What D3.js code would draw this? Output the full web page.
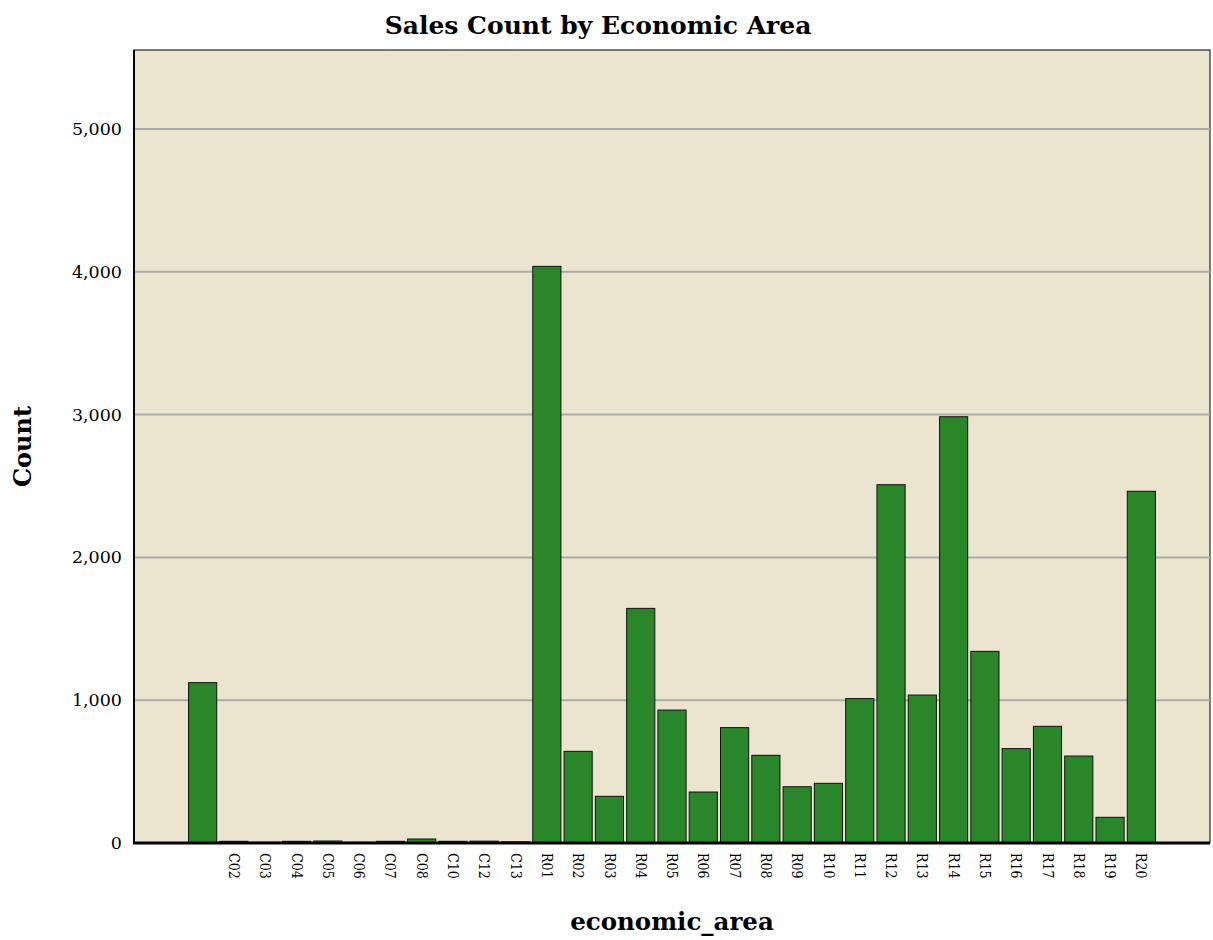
<!DOCTYPE html>
<meta charset="utf-8">
<style>
body { margin: 0; background: #fff; }
text { font-family: "DejaVu Serif", serif; }
</style>
<body>
<svg width="1213" height="940"></svg>
<script src="https://cdn.jsdelivr.net/npm/d3@7"></script>
<script>

var areas = ["", "C02", "C03", "C04", "C05", "C06", "C07", "C08", "C10", "C12", "C13",
  "R01", "R02", "R03", "R04", "R05", "R06", "R07", "R08", "R09", "R10",
  "R11", "R12", "R13", "R14", "R15", "R16", "R17", "R18", "R19", "R20"];

var counts = [1123, 12, 5, 12, 14, 5, 12, 28, 12, 13, 8,
  4038, 642, 327, 1643, 931, 357, 808, 614, 394, 418,
  1011, 2509, 1036, 2985, 1342, 661, 817, 609, 180, 2463];

var yTicks = [0, 1000, 2000, 3000, 4000, 5000];

var data = areas.map(function(a, i) { return {area: a, count: counts[i]}; });

var svg = d3.select("svg"),
    margin = {top: 50, right: 3, bottom: 97, left: 134},
    width = +svg.attr("width") - margin.left - margin.right,
    height = +svg.attr("height") - margin.top - margin.bottom,
    g = svg.append("g").attr("transform", "translate(" + margin.left + "," + margin.top + ")");

var x = d3.scaleBand()
    .domain(areas)
    .range([53, width - 53])
    .paddingInner(0.1)
    .paddingOuter(0.05);

var y = d3.scaleLinear()
    .domain([0, 5553])
    .range([height, 0]);

// plot background
g.append("rect")
    .attr("width", width)
    .attr("height", height)
    .attr("fill", "#ebe4cf")
    .attr("stroke", "#000")
    .attr("stroke-width", 1);

// grid lines
g.append("g")
  .selectAll("line")
  .data(yTicks.slice(1))
  .enter().append("line")
    .attr("x1", 0)
    .attr("x2", width)
    .attr("y1", function(d) { return y(d); })
    .attr("y2", function(d) { return y(d); })
    .attr("stroke", "#aaa")
    .attr("stroke-width", 2);

// bars
g.selectAll(".bar")
  .data(data)
  .enter().append("rect")
    .attr("class", "bar")
    .attr("x", function(d) { return x(d.area); })
    .attr("y", function(d) { return y(d.count); })
    .attr("width", x.bandwidth())
    .attr("height", function(d) { return height - y(d.count); })
    .attr("fill", "#2a8729")
    .attr("stroke", "#111")
    .attr("stroke-width", 1);

// y axis
var yAxis = g.append("g")
    .call(d3.axisLeft(y).tickValues(yTicks).tickSize(0).tickPadding(12).tickFormat(d3.format(",")));
yAxis.select(".domain").remove();
yAxis.selectAll("text")
    .style("font-family", "'DejaVu Serif', serif")
    .style("font-size", "17.5px")
    .attr("fill", "#000");

// x axis
var xAxis = g.append("g")
    .attr("transform", "translate(0," + height + ")")
    .call(d3.axisBottom(x).tickSize(0));
xAxis.select(".domain").remove();
xAxis.selectAll("text")
    .attr("transform", "rotate(90)")
    .attr("x", 10)
    .attr("y", 0)
    .attr("dy", "0.35em")
    .style("text-anchor", "start")
    .style("font-family", "'DejaVu Serif', serif")
    .style("font-stretch", "condensed")
    .style("font-size", "14px")
    .attr("fill", "#000");

// axis lines
g.append("line")
    .attr("x1", 0).attr("x2", 0)
    .attr("y1", 0).attr("y2", height + 1)
    .attr("stroke", "#000").attr("stroke-width", 2);
g.append("line")
    .attr("x1", -1).attr("x2", width)
    .attr("y1", height).attr("y2", height)
    .attr("stroke", "#000").attr("stroke-width", 3);

// titles
svg.append("text")
    .attr("x", 598)
    .attr("y", 34)
    .attr("text-anchor", "middle")
    .style("font-size", "25px")
    .style("font-weight", "bold")
    .text("Sales Count by Economic Area");

svg.append("text")
    .attr("transform", "translate(31," + (margin.top + height / 2) + ") rotate(-90)")
    .attr("text-anchor", "middle")
    .style("font-size", "24px")
    .style("font-weight", "bold")
    .text("Count");

svg.append("text")
    .attr("x", margin.left + width / 2)
    .attr("y", 930)
    .attr("text-anchor", "middle")
    .style("font-size", "24.5px")
    .style("font-weight", "bold")
    .text("economic_area");

</script>
</body>
